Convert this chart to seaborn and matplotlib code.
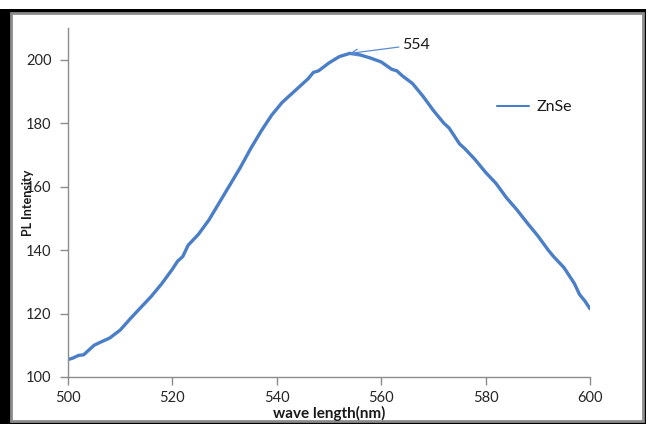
import matplotlib
matplotlib.use("Agg")
import matplotlib.pyplot as plt
from matplotlib.patches import Rectangle
import seaborn as sns
import pandas as pd

wavelength = [500, 501, 502, 503, 504, 505, 506, 508, 510, 512, 514, 516, 518, 520, 521, 522, 523, 525, 527, 529,
              531, 533, 535, 537, 539, 541, 543, 545, 546, 547, 548, 550, 552, 554, 556, 558, 560, 562, 563, 564,
              566, 568, 570, 572, 573, 574, 575, 576, 578, 580, 582, 584, 586, 588, 590, 592, 593, 595, 597, 598,
              599, 600]
intensity = [105.5, 106, 106.8, 107, 108.5, 110, 110.8, 112.3, 114.8, 118.5, 122, 125.5, 129.5, 134, 136.5, 138, 141.5, 145, 149.5, 155,
             160.5, 166, 172, 177.5, 182.5, 186.5, 189.5, 192.5, 194, 196, 196.5, 199, 201, 202, 201.5, 200.5, 199.3, 197, 196.5, 195,
             192.5, 188.5, 184, 180, 178.5, 176, 173.5, 172, 168.5, 164.5, 161, 156.5, 152.7, 148.5, 144.5, 140, 138, 134.5, 129.5, 126,
             124, 121.5]
series_name = "ZnSe"
peak_label = "554"
peak_x = 554
peak_y = 202
x_ticks = [500, 520, 540, 560, 580, 600]
y_ticks = [100, 120, 140, 160, 180, 200]
x_title = "wave length(nm)"
y_title = "PL Intensity"

df = pd.DataFrame({"wavelength": wavelength, "intensity": intensity, "series": series_name})

sns.set_style("white")
plt.rcParams["font.family"] = ["Lato", "DejaVu Sans"]

W, H = 648, 424
fig = plt.figure(figsize=(W / 100, H / 100), dpi=100)
fig.patch.set_facecolor("white")

# outer black frame and inner gray-edged white panel
fig.add_artist(Rectangle((0, 0), 646 / W, (H - 9) / H, transform=fig.transFigure,
                         facecolor="black", edgecolor="none", zorder=-3))
fig.add_artist(Rectangle((11 / W, 3 / H), (643 - 11) / W, (421 - 13) / H, transform=fig.transFigure,
                         facecolor="white", edgecolor="#8c8c8c", linewidth=2, zorder=-2))

ax = fig.add_axes([68 / W, 1 - 377 / H, (590 - 68) / W, (377 - 28) / H])
ax.set_facecolor("none")

sns.lineplot(data=df, x="wavelength", y="intensity", hue="series", palette=["#4a7ec6"],
             linewidth=2.4, ax=ax)

ax.set_xlim(500, 600)
ax.set_ylim(100, 210)
ax.set_xticks(x_ticks)
ax.set_yticks(y_ticks)

for s in ["top", "right"]:
    ax.spines[s].set_visible(False)
for s in ["left", "bottom"]:
    ax.spines[s].set_color("#8c8c8c")
    ax.spines[s].set_linewidth(1.0)

ax.tick_params(axis="both", direction="out", length=6, width=1, color="#8c8c8c",
               labelsize=10.5, labelcolor="#262626")
ax.tick_params(axis="x", pad=4)
ax.tick_params(axis="y", pad=6)
ax.xaxis.set_ticks_position("bottom")
ax.yaxis.set_ticks_position("left")

ax.set_xlabel(x_title, fontsize=11, fontweight="bold", color="#1a1a1a")
ax.set_ylabel(y_title, fontsize=9, fontweight="bold", color="#1a1a1a")
ax.xaxis.set_label_coords(0.5, (377 - 413) / 349)
ax.xaxis.label.set_va("center")
ax.yaxis.set_label_coords((28 - 68) / 522, 0.5)
ax.yaxis.label.set_va("center")

ax.annotate(peak_label, xy=(peak_x, peak_y), xytext=(564, 204.7),
            fontsize=11.5, color="#1a1a1a", ha="left", va="center",
            arrowprops=dict(arrowstyle="->", color="#5b8bd0", lw=0.9, shrinkA=0, shrinkB=0))

ax.legend(loc="center left", bbox_to_anchor=((497 - 68) / 522, (377 - 107) / 349),
          frameon=False, fontsize=11.5, handlelength=2.0, handletextpad=0.5,
          borderpad=0, borderaxespad=0, labelcolor="#1a1a1a")
for line in ax.get_legend().get_lines():
    line.set_linewidth(1.5)

fig.savefig("out.png", dpi=100, facecolor="white")
